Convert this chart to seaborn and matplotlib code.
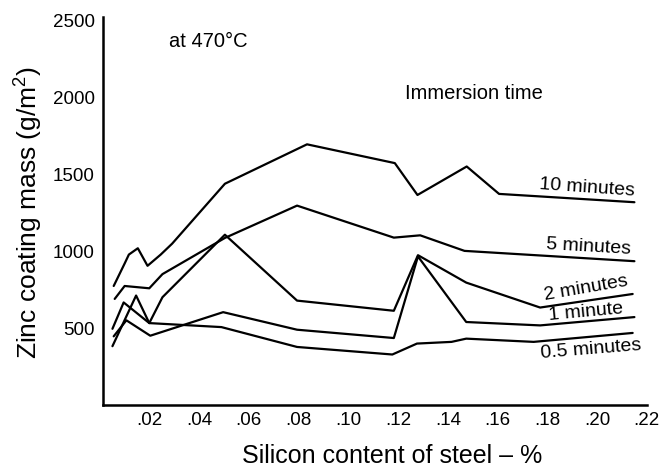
import matplotlib
matplotlib.use("Agg")
import matplotlib.pyplot as plt
import seaborn as sns
import pandas as pd

# --- data ---
x_10 = [0.0057, 0.0101, 0.0118, 0.0154, 0.0193, 0.0246, 0.0292, 0.0504, 0.0834, 0.1187, 0.1278, 0.1476, 0.1606, 0.2150]
y_10 = [773, 919, 977, 1018, 904, 977, 1048, 1437, 1693, 1571, 1364, 1549, 1371, 1317]

x_5 = [0.0061, 0.0101, 0.0200, 0.0253, 0.0504, 0.0794, 0.1183, 0.1289, 0.1467, 0.2150]
y_5 = [689, 773, 758, 850, 1085, 1295, 1087, 1102, 1001, 934]

x_2 = [0.0052, 0.0097, 0.0200, 0.0253, 0.0504, 0.0794, 0.1183, 0.1280, 0.1474, 0.1771, 0.2143]
y_2 = [495, 666, 532, 700, 1106, 678, 612, 973, 795, 633, 721]

x_1 = [0.0057, 0.0108, 0.0204, 0.0497, 0.0794, 0.1183, 0.1280, 0.1474, 0.1771, 0.2150]
y_1 = [446, 550, 450, 603, 489, 435, 965, 539, 517, 571]

x_05 = [0.0052, 0.0147, 0.0200, 0.0490, 0.0794, 0.1177, 0.1276, 0.1415, 0.1474, 0.1745, 0.2143]
y_05 = [382, 711, 532, 506, 377, 328, 399, 410, 431, 410, 468]

series_names = ["10 minutes", "5 minutes", "2 minutes", "1 minute", "0.5 minutes"]
xticks = [0.02, 0.04, 0.06, 0.08, 0.10, 0.12, 0.14, 0.16, 0.18, 0.20, 0.22]
xtick_labels = [".02", ".04", ".06", ".08", ".10", ".12", ".14", ".16", ".18", ".20", ".22"]
yticks = [500, 1000, 1500, 2000, 2500]
ytick_labels = ["500", "1000", "1500", "2000", "2500"]

frames = []
for name, xs, ys in zip(series_names, [x_10, x_5, x_2, x_1, x_05], [y_10, y_5, y_2, y_1, y_05]):
    frames.append(pd.DataFrame({"si": xs, "mass": ys, "series": name}))
df = pd.concat(frames, ignore_index=True)

sns.set_style("white")
plt.rcParams["font.family"] = ["Liberation Sans", "DejaVu Sans"]
plt.rcParams["mathtext.fontset"] = "custom"
plt.rcParams["mathtext.rm"] = "Liberation Sans"
plt.rcParams["mathtext.default"] = "regular"
plt.rcParams["text.color"] = "black"
plt.rcParams["axes.labelcolor"] = "black"

fig = plt.figure(figsize=(6.71, 4.68), dpi=100)
ax = fig.add_axes([0.1535, 0.1346, 0.8105, 0.8291])

sns.lineplot(data=df, x="si", y="mass", hue="series", units="series", estimator=None,
             sort=False, palette=["black"] * 5, linewidth=1.6, legend=False, ax=ax)

ax.set_xlim(0.0014, 0.2168)
ax.set_ylim(0, 2520)
ax.set_xticks(xticks)
ax.set_xticklabels(xtick_labels)
ax.set_yticks(yticks)
ax.set_yticklabels(ytick_labels)
ax.tick_params(axis="both", length=0, labelsize=13.5, colors="black")
ax.tick_params(axis="y", pad=6)
ax.tick_params(axis="x", pad=5)

for side in ["top", "right"]:
    ax.spines[side].set_visible(False)
for side in ["left", "bottom"]:
    ax.spines[side].set_linewidth(1.8)
    ax.spines[side].set_color("black")

ax.set_xlabel("Silicon content of steel – %", fontsize=18, color="black")
ax.xaxis.label.set_va("baseline")
ax.xaxis.set_label_coords(0.531, -0.149)
ax.set_ylabel("Zinc coating mass (g/m$^2$)", fontsize=19, color="black")
ax.yaxis.label.set_va("center")
ax.yaxis.set_label_coords(-0.136, 0.495)

ax.text(0.0279, 2327, "at 470°C", fontsize=14.5, ha="left", va="baseline", color="black")
ax.text(0.1228, 1990, "Immersion time", fontsize=14.5, ha="left", va="baseline", color="black")

labels = [
    ("10 minutes", 0.1960, 1380, -4),
    ("5 minutes", 0.1965, 1000, -3.3),
    ("2 minutes", 0.1960, 732, 9.8),
    ("1 minute", 0.1957, 575, 5.2),
    ("0.5 minutes", 0.1978, 332, 4.6),
]
for txt, lx, ly, rot in labels:
    ax.text(lx, ly, txt, fontsize=14, ha="center", va="baseline", rotation=rot,
            rotation_mode="anchor", color="black")

fig.savefig("out.png", dpi=100)
